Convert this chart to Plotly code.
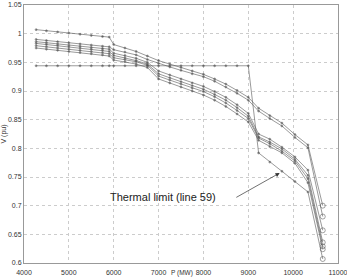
import plotly.graph_objects as go

P = [4270, 4500, 4750, 5000, 5250, 5500, 5750, 5900, 6000, 6250, 6500, 6750, 7000,
     7250, 7500, 7750, 8000, 8250, 8500, 8750, 9000, 9230, 9480, 9750, 10040, 10330, 10660]

C1 = [1.007, 1.005, 1.003, 1.001, 0.999, 0.997, 0.995, 0.994, 0.981, 0.975, 0.969, 0.961, 0.953,
      0.947, 0.941, 0.935, 0.929, 0.921, 0.912, 0.901, 0.889, 0.870, 0.857, 0.844, 0.824, 0.806, 0.700]
C2 = [0.990, 0.988, 0.986, 0.984, 0.982, 0.980, 0.978, 0.977, 0.972, 0.968, 0.963, 0.955, 0.948,
      0.942, 0.936, 0.930, 0.925, 0.917, 0.907, 0.896, 0.884, 0.865, 0.852, 0.839, 0.819, 0.801, 0.681]
L1 = [0.986, 0.984, 0.982, 0.980, 0.978, 0.976, 0.974, 0.973, 0.966, 0.962, 0.957, 0.950, 0.935,
      0.928, 0.921, 0.914, 0.908, 0.899, 0.889, 0.876, 0.861, 0.825, 0.816, 0.802, 0.785, 0.762, 0.657]
L2 = [0.983, 0.981, 0.979, 0.977, 0.975, 0.973, 0.971, 0.969, 0.962, 0.958, 0.953, 0.947, 0.930,
      0.923, 0.916, 0.909, 0.903, 0.894, 0.884, 0.871, 0.856, 0.820, 0.811, 0.799, 0.781, 0.753, 0.636]
L3 = [0.979, 0.977, 0.975, 0.973, 0.971, 0.969, 0.967, 0.965, 0.958, 0.955, 0.951, 0.945, 0.926,
      0.919, 0.912, 0.905, 0.899, 0.890, 0.879, 0.866, 0.852, 0.818, 0.808, 0.795, 0.778, 0.747, 0.629]
L4 = [0.975, 0.973, 0.971, 0.969, 0.967, 0.965, 0.963, 0.961, 0.954, 0.951, 0.947, 0.941, 0.921,
      0.914, 0.907, 0.900, 0.893, 0.884, 0.873, 0.860, 0.846, 0.814, 0.803, 0.792, 0.774, 0.740, 0.624]
THERMAL = [0.944, 0.944, 0.944, 0.944, 0.944, 0.944, 0.944, 0.944, 0.944, 0.944, 0.944, 0.944, 0.944,
           0.944, 0.944, 0.944, 0.944, 0.944, 0.944, 0.944, 0.944, 0.792, 0.776, 0.760, 0.742, 0.724, 0.607]

SERIES = [C1, C2, L1, L2, L3, L4, THERMAL]

X_TICKS = [4000, 5000, 6000, 7000, 8000, 9000, 10000, 11000]
X_LABELS = ["4000", "5000", "6000", "7000", "8000", "9000", "10000", "11000"]
Y_TICKS = [0.6, 0.65, 0.7, 0.75, 0.8, 0.85, 0.9, 0.95, 1.0, 1.05]
Y_LABELS = ["0.6", "0.65", "0.7", "0.75", "0.8", "0.85", "0.9", "0.95", "1", "1.05"]

ANNOT_TEXT = "Thermal limit (line 59)"
X_TITLE = "P (MW)"
Y_TITLE = "V (pu)"

FONT = "Liberation Sans, Arial"

fig = go.Figure()
n = len(P)
for s in SERIES:
    fig.add_trace(go.Scatter(
        x=P, y=s, mode="lines+markers",
        line=dict(color="#555555", width=0.6),
        marker=dict(
            symbol=["circle"] * (n - 1) + ["circle-open"],
            size=[2] * (n - 1) + [5],
            color="#444444",
            line=dict(color="#666666", width=0.7),
        ),
        showlegend=False,
        hoverinfo="skip",
    ))

fig.add_annotation(
    x=9700, y=0.757, ax=8700, ay=0.713, xref="x", yref="y", axref="x", ayref="y",
    text="", showarrow=True, arrowhead=2, arrowsize=1.2, arrowwidth=0.7, arrowcolor="#333333",
)
fig.add_annotation(
    x=7100, y=0.715, xref="x", yref="y", text=ANNOT_TEXT, showarrow=False,
    font=dict(family=FONT, size=11, color="#222222"),
)
fig.add_annotation(
    x=0.502, y=-0.058, xref="paper", yref="paper", xanchor="center", yanchor="bottom",
    text=X_TITLE, showarrow=False, borderpad=0,
    font=dict(family=FONT, size=6.5, color="#333333"),
)

axis_common = dict(
    showgrid=True, gridcolor="#cccccc", griddash="dot", gridwidth=0.8,
    showline=True, linecolor="#999999", linewidth=1, mirror=True,
    ticks="", zeroline=False, automargin=False,
    tickfont=dict(family=FONT, size=7, color="#333333"),
)

fig.update_layout(
    width=347, height=278,
    margin=dict(l=24, r=9, t=5, b=15),
    paper_bgcolor="white", plot_bgcolor="white",
    xaxis=dict(range=[4000, 11000], tickvals=X_TICKS, ticktext=X_LABELS,
               ticklabelstandoff=3, ticklabeloverflow="allow",
               **axis_common),
    yaxis=dict(range=[0.6, 1.05], tickvals=Y_TICKS, ticktext=Y_LABELS,
               title=dict(text=Y_TITLE, font=dict(family=FONT, size=7, color="#333333"), standoff=2),
               **axis_common),
)

fig.write_html("out.html")
